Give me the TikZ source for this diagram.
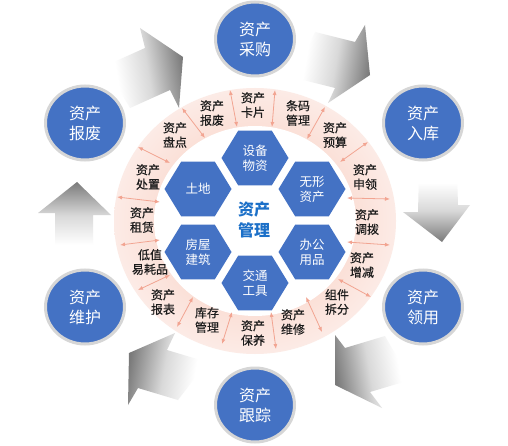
\documentclass[tikz,border=0pt]{standalone}
\usepackage{fontspec}
\newfontfamily\cjk{Noto Sans CJK SC}
\newfontfamily\cjkm[FakeBold=0.6]{Noto Sans CJK SC}
\usetikzlibrary{arrows.meta,calc}
\definecolor{hexblue}{RGB}{68,114,196}
\definecolor{pinkA}{RGB}{251,223,214}
\definecolor{pinkB}{RGB}{252,235,230}
\definecolor{arrowsalmon}{RGB}{242,164,145}
\definecolor{circborder}{RGB}{214,214,214}
\definecolor{centerblue}{RGB}{28,112,200}
\definecolor{labeltext}{RGB}{28,28,28}
\pgfdeclareverticalshading{fadearrow}{100bp}{color(0bp)=(white); color(25bp)=(white); color(32bp)=(white); color(52bp)=(black!15); color(75bp)=(black!52); color(100bp)=(black!52)}
\pgfdeclareradialshading{ringglow}{\pgfpoint{0bp}{0bp}}{color(0bp)=(pinkA); color(17bp)=(pinkA); color(25bp)=(pinkB); color(50bp)=(pinkB)}
\begin{document}
\begin{tikzpicture}[x=1pt,y=1pt,
  ringlabel/.style={font=\cjkm\fontsize{12}{14.5}\selectfont, text=labeltext, align=center, inner sep=0pt},
  hextext/.style={font=\cjk\fontsize{12.5}{15}\selectfont, text=white, align=center, inner sep=0pt},
  outertext/.style={font=\cjk\fontsize{16}{20}\selectfont, text=white, align=center, inner sep=0pt},
  outercirc/.style={fill=hexblue, draw=circborder, line width=3pt},
  sepline/.style={draw=arrowsalmon, line width=0.8pt, {Latex[length=5pt,width=4pt]}-{Latex[length=5pt,width=4pt]}},
  blockarrow/.style={shading=fadearrow, draw=none},
]
\useasboundingbox (0,0) rectangle (508,445);
\fill[white] (0,0) rectangle (508,445);

% gray block arrows (clockwise flow)
\shade[blockarrow, shading angle=-80] (140,417) -- (183,388) -- (179,337) -- (170,355) -- (130,337) -- (105,379) -- (145,397) -- cycle;
\shade[blockarrow, shading angle=-100] (365,420) -- (370,370) -- (328,342) -- (335,357) -- (295,367) -- (315,413) -- (355,403) -- cycle;
\shade[blockarrow, shading angle=180] (403,233) -- (442,203) -- (470,240) -- (458,240) -- (457,272) -- (419,272) -- (418,233) -- cycle;
\shade[blockarrow, shading angle=100] (335,110) -- (335,60) -- (382,37) -- (370,53) -- (410,65) -- (385,109) -- (345,97) -- cycle;
\shade[blockarrow, shading angle=80] (175,112) -- (129,92) -- (128,40) -- (138,57) -- (178,45) -- (207,83) -- (167,95) -- cycle;
\shade[blockarrow, shading angle=0] (111,230) -- (77,263) -- (38,232) -- (55,232) -- (55,190) -- (93,190) -- (93,230) -- cycle;

% ring
\shade[shading=ringglow] (255,224) ellipse [x radius=141, y radius=133];
\fill[white] (255,224) ellipse [x radius=101, y radius=95];

% ring separators
\draw[sepline] (230,355) -- (237,318);
\draw[sepline] (275,355) -- (272,318);
\draw[sepline] (325,338) -- (307,306);
\draw[sepline] (368,303) -- (340,283);
\draw[sepline] (347,247) -- (390,246);
\draw[sepline] (347,203) -- (390,200);
\draw[sepline] (338,166) -- (371,148);
\draw[sepline] (306,148) -- (322,113);
\draw[sepline] (271,133) -- (276,96);
\draw[sepline] (232,133) -- (222,101);
\draw[sepline] (193,148) -- (177,118);
\draw[sepline] (170,170) -- (138,155);
\draw[sepline] (160,205) -- (120,200);
\draw[sepline] (160,243) -- (117,248);
\draw[sepline] (170,282) -- (138,298);
\draw[sepline] (205,307) -- (182,337);

% ring labels
\node[ringlabel] (l1) at (253,340) {资产\\卡片};
\node[ringlabel] (l2) at (298,332) {条码\\管理};
\node[ringlabel] (l3) at (335,310) {资产\\预算};
\node[ringlabel] (l4) at (365,268) {资产\\申领};
\node[ringlabel] (l5) at (367,223) {资产\\调拨};
\node[ringlabel] (l6) at (362,180) {资产\\增减};
\node[ringlabel] (l7) at (337,143) {组件\\拆分};
\node[ringlabel] (l8) at (293,123) {资产\\维修};
\node[ringlabel] (l9) at (253,112) {资产\\保养};
\node[ringlabel] (l10) at (207,125) {库存\\管理};
\node[ringlabel] (l11) at (163,143) {资产\\报表};
\node[ringlabel] (l12) at (150,183) {低值\\易耗品};
\node[ringlabel] (l13) at (142,225) {资产\\租赁};
\node[ringlabel] (l14) at (148,268) {资产\\处置};
\node[ringlabel] (l15) at (175,310) {资产\\盘点};
\node[ringlabel] (l16) at (212,332) {资产\\报废};

% hexagons
\foreach \hx/\hy in {255/287, 312/256, 312/193, 255/162, 198/193, 198/256}{
  \fill[hexblue] (\hx,\hy) +(33.5,0) -- +(16.75,27.4) -- +(-16.75,27.4) -- +(-33.5,0) -- +(-16.75,-27.4) -- +(16.75,-27.4) -- cycle;
}
\node[hextext] (h1) at (255,287) {设备\\物资};
\node[hextext] (h2) at (312,256) {无形\\资产};
\node[hextext] (h3) at (312,193) {办公\\用品};
\node[hextext] (h4) at (255,162) {交通\\工具};
\node[hextext] (h5) at (198,193) {房屋\\建筑};
\node[hextext] (h6) at (198,256) {土地};

\node[font=\cjk\bfseries\fontsize{16}{21}\selectfont, text=centerblue, align=center, inner sep=0pt] (core) at (254,225) {资产\\管理};

% outer circles
\filldraw[outercirc] (255,406) ellipse [x radius=39.5, y radius=37];
\filldraw[outercirc] (423,322) ellipse [x radius=39.5, y radius=37];
\filldraw[outercirc] (423,138) ellipse [x radius=39.5, y radius=37];
\filldraw[outercirc] (255,40) ellipse [x radius=39.5, y radius=37];
\filldraw[outercirc] (85,138) ellipse [x radius=39.5, y radius=37];
\filldraw[outercirc] (85,322) ellipse [x radius=39.5, y radius=37];
\node[outertext] (o1) at (255,406) {资产\\采购};
\node[outertext] (o2) at (423,322) {资产\\入库};
\node[outertext] (o3) at (423,138) {资产\\领用};
\node[outertext] (o4) at (255,40) {资产\\跟踪};
\node[outertext] (o5) at (85,138) {资产\\维护};
\node[outertext] (o6) at (85,322) {资产\\报废};
\end{tikzpicture}
\end{document}
